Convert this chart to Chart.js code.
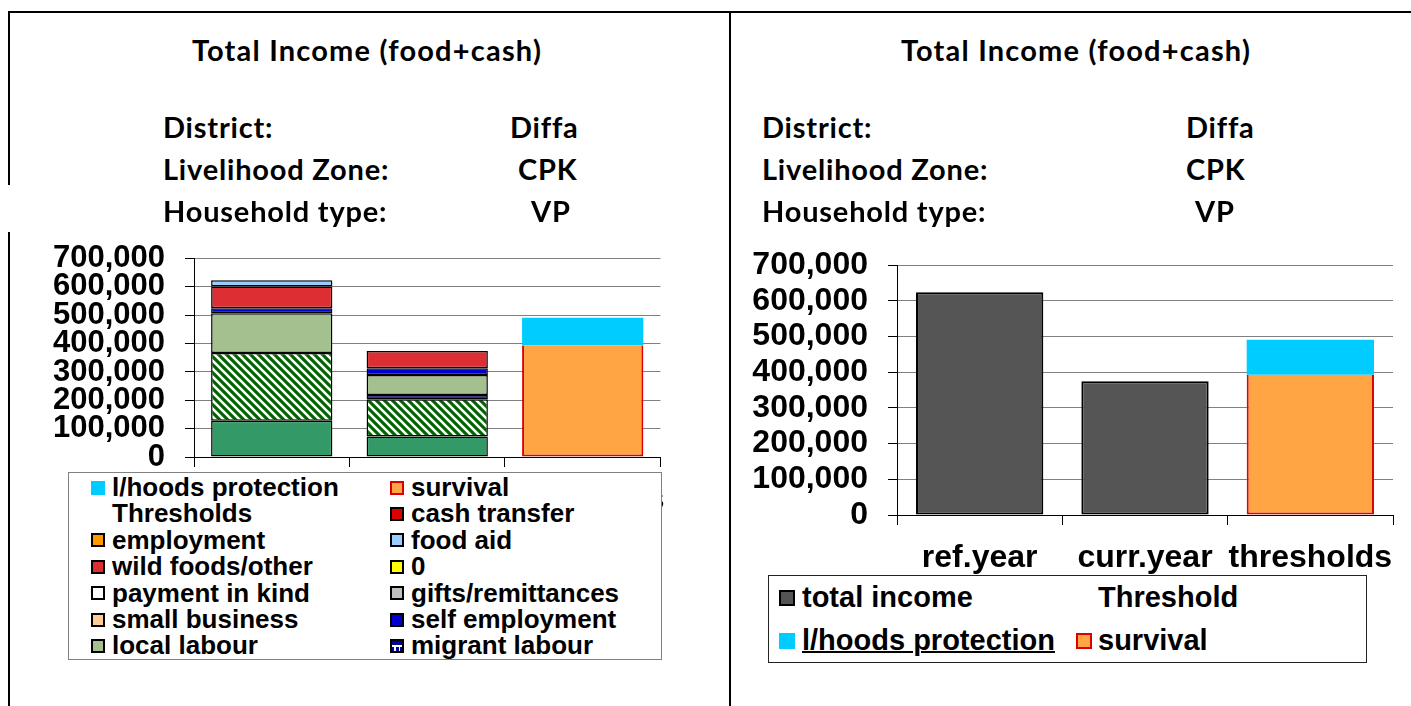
<!DOCTYPE html>
<html>
<head>
<meta charset="utf-8">
<title>Total Income (food+cash)</title>
<script src="https://cdn.jsdelivr.net/npm/chart.js@4.4.1/dist/chart.umd.min.js"></script>
<style>
  html, body { margin: 0; padding: 0; background: #fff; }
  #page { position: relative; width: 1411px; height: 706px; overflow: hidden; font-family: 'Liberation Sans', Arial, sans-serif; }
  .rule { position: absolute; background: #000; }
  .hdr { position: absolute; font-family: Lato, 'Open Sans', sans-serif; font-weight: 700; font-size: 29px; letter-spacing: 0.8px; line-height: 1; white-space: nowrap; color: #000; }
  .plot { position: absolute; }
  .legend { position: absolute; background: #fff; box-sizing: border-box; font-weight: 700; color: #000; z-index: 2; }
  .item { position: absolute; white-space: nowrap; line-height: 1; }
  .mk { position: absolute; box-sizing: border-box; }
</style>
</head>
<body>
<div id="page">
  <div class="rule" style="left:8px; top:11px; width:1403px; height:2px;"></div>
  <div class="rule" style="left:8px; top:11px; width:2px; height:174px;"></div>
  <div class="rule" style="left:8px; top:232px; width:2px; height:474px;"></div>
  <div class="rule" style="left:729px; top:11px; width:2px; height:695px;"></div>

  <div class="plot" style="left:0; top:220px;"><canvas id="leftChart" width="680" height="300"></canvas></div>
  <div class="plot" style="left:730px; top:226px;"><canvas id="rightChart" width="681" height="349"></canvas></div>

  <div class="legend" id="leftLegend" style="left:68px; top:472px; width:594px; height:188px; border:1px solid #808080;"></div>
  <div class="legend" id="rightLegend" style="left:768px; top:575px; width:599px; height:88px; border:1px solid #222;"></div>
</div>

<script>
// Total Income (food+cash) - Diffa / CPK / VP

const categories = ['ref.year', 'curr.year', 'thresholds'];
const yTicks = [0, 100000, 200000, 300000, 400000, 500000, 600000, 700000];

const headerTitle = 'Total Income (food+cash)';
const headerLabels = ['District:', 'Livelihood Zone:', 'Household type:'];
const headerValues = ['Diffa', 'CPK', 'VP'];

// sources, bottom of the stack first
const crops = [128000, 72000, 0];
const livestock = [239000, 132000, 0];
const migrantLabour = [0, 15000, 0];
const localLabour = [140000, 70000, 0];
const smallBusiness = [0, 0, 0];
const selfEmployment = [18000, 24000, 0];
const giftsRemittances = [0, 0, 0];
const paymentInKind = [0, 0, 0];
const zeroSeries = [0, 0, 0];
const wildFoods = [77000, 61000, 0];
const foodAid = [22000, 0, 0];
const employment = [0, 0, 0];
const cashTransfer = [0, 0, 0];

// thresholds
const survival = [0, 0, 393000];
const lhoodsProtection = [0, 0, 98000];

// totals
const totalIncome = [624000, 375000, 0];

const leftLegendOrder = ['l/hoods protection', 'survival', 'Thresholds', 'cash transfer', 'employment', 'food aid',
  'wild foods/other', '0', 'payment in kind', 'gifts/remittances', 'small business', 'self employment',
  'local labour', 'migrant labour'];
const rightLegendOrder = ['total income', 'Threshold', 'l/hoods protection', 'survival'];

const FONT = "'Liberation Sans', Arial, sans-serif";

function hatch(bg, fg) {
  const c = document.createElement('canvas');
  c.width = 8; c.height = 8;
  const g = c.getContext('2d');
  g.fillStyle = bg;
  g.fillRect(0, 0, 8, 8);
  g.strokeStyle = fg;
  g.lineWidth = 2.6;
  g.beginPath();
  g.moveTo(-4, -4); g.lineTo(12, 12);
  g.moveTo(-4, 4); g.lineTo(4, 12);
  g.moveTo(4, -4); g.lineTo(12, 4);
  g.stroke();
  return g.createPattern(c, 'repeat');
}

function seg(label, data, bg) {
  return { label, data, backgroundColor: bg, borderColor: '#000', borderWidth: 1.5, borderSkipped: false, stack: 'inc' };
}

function survivalSet() {
  return { label: 'survival', data: survival, backgroundColor: '#ffa544', borderColor: '#dd0000', borderWidth: 2, borderSkipped: 'top', stack: 'inc' };
}

function lhoodsSet() {
  return { label: 'l/hoods protection', data: lhoodsProtection, backgroundColor: '#00ccff', borderWidth: 0, stack: 'inc' };
}

function axes(yWidth, xHeight, ySize) {
  return {
    x: {
      stacked: true,
      grid: { display: true, drawOnChartArea: false, offset: true, tickLength: 10, tickColor: '#000' },
      border: { color: '#000', width: 1 },
      ticks: { font: { family: FONT, size: 32, weight: 'bold' }, color: '#000', padding: 14, maxRotation: 0, autoSkip: false },
      afterFit: function (s) { s.height = xHeight; },
    },
    y: {
      stacked: true,
      min: 0,
      max: 700000,
      afterBuildTicks: function (s) { s.ticks = yTicks.map(v => ({ value: v })); },
      ticks: {
        font: { family: FONT, size: ySize, weight: 'bold' },
        color: '#000',
        padding: 20,
        autoSkip: false,
        callback: v => v.toLocaleString('en-US'),
      },
      grid: { color: '#808080', lineWidth: 1, tickLength: 9, tickColor: '#000' },
      border: { color: '#000', width: 1 },
      afterFit: function (s) { s.width = yWidth; },
    },
  };
}

function baseOptions(yWidth, xHeight, ySize, barPct, padRight) {
  return {
    responsive: false,
    animation: false,
    layout: { autoPadding: false, padding: { top: 0, right: padRight, left: 0, bottom: 0 } },
    plugins: { legend: { display: false }, tooltip: { enabled: false } },
    datasets: { bar: { categoryPercentage: 1, barPercentage: barPct } },
    scales: axes(yWidth, xHeight, ySize),
  };
}

const charts = {};

function plotLeft() {
  const ctx = document.getElementById('leftChart');
  const datasets = [
    seg('crops', crops, '#339966'),
    seg('livestock', livestock, hatch('#006400', '#ffffff')),
    seg('migrant labour', migrantLabour, '#000099'),
    seg('local labour', localLabour, '#a4c08f'),
    seg('small business', smallBusiness, '#ffcc99'),
    seg('self employment', selfEmployment, '#0000cc'),
    seg('gifts/remittances', giftsRemittances, '#c0c0c0'),
    seg('payment in kind', paymentInKind, '#ffffff'),
    seg('0', zeroSeries, '#ffff00'),
    seg('wild foods/other', wildFoods, '#dd2f33'),
    seg('food aid', foodAid, '#99ccff'),
    seg('employment', employment, '#ff9900'),
    seg('cash transfer', cashTransfer, '#dd0000'),
    survivalSet(),
    lhoodsSet(),
  ];
  charts.left = new Chart(ctx, {
    type: 'bar',
    data: { labels: categories, datasets },
    options: baseOptions(194, 63, 31, 0.78, 9),
  });
}

function plotRight() {
  const ctx = document.getElementById('rightChart');
  const datasets = [
    { label: 'total income', data: totalIncome, backgroundColor: '#555555', borderColor: '#000', borderWidth: 2, borderSkipped: false, stack: 'inc' },
    survivalSet(),
    lhoodsSet(),
  ];
  charts.right = new Chart(ctx, {
    type: 'bar',
    data: { labels: categories, datasets },
    options: baseOptions(167, 60, 32, 0.77, 18),
  });
}

// html legend, markers taken from the chart datasets
function marker(ds, size) {
  const m = document.createElement('div');
  m.className = 'mk';
  m.style.width = size + 'px';
  m.style.height = size + 'px';
  if (ds.label === 'migrant labour') {
    m.style.border = '2px solid #000';
    m.style.background = 'linear-gradient(#000099 40%, #fff 40%, #fff 58%, transparent 58%),' +
      'linear-gradient(90deg, #000099 20%, #fff 20%, #fff 35%, #000099 35%, #000099 65%, #fff 65%, #fff 80%, #000099 80%)';
  } else {
    m.style.background = ds.backgroundColor;
    if (ds.borderWidth) m.style.border = '2px solid ' + ds.borderColor;
  }
  return m;
}

function buildLegend(el, chart, order, opt) {
  order.forEach((label, i) => {
    const col = i % 2;
    const row = Math.floor(i / 2);
    const cy = opt.y0 + row * opt.dy;
    const ds = chart.data.datasets.find(d => d.label === label);
    if (ds) {
      const m = marker(ds, opt.mk);
      m.style.left = opt.mkX[col] + 'px';
      m.style.top = (cy - opt.mk / 2) + 'px';
      el.appendChild(m);
    }
    const t = document.createElement('div');
    t.className = 'item';
    t.textContent = label;
    t.style.fontSize = opt.size + 'px';
    t.style.left = opt.txX[col] + 'px';
    t.style.top = (cy - opt.size * 0.52) + 'px';
    if (opt.underline && opt.underline === label) {
      t.style.textDecoration = 'underline';
      t.style.textDecorationThickness = '2px';
    }
    el.appendChild(t);
  });
}

function header(x0, valueX, center) {
  const page = document.getElementById('page');
  const t = document.createElement('div');
  t.className = 'hdr';
  t.textContent = headerTitle;
  t.style.left = center + 'px';
  t.style.top = (50 - 29 * 0.53) + 'px';
  t.style.letterSpacing = '1.2px';
  t.style.transform = 'translateX(-50%)';
  page.appendChild(t);
  headerLabels.forEach((lab, i) => {
    const cy = 127 + i * 42;
    const a = document.createElement('div');
    a.className = 'hdr';
    a.textContent = lab;
    a.style.left = x0 + 'px';
    a.style.top = (cy - 29 * 0.53) + 'px';
    page.appendChild(a);
    const b = document.createElement('div');
    b.className = 'hdr';
    b.textContent = headerValues[i];
    b.style.left = valueX[i] + 'px';
    b.style.top = (cy - 29 * 0.53) + 'px';
    page.appendChild(b);
  });
}

window.addEventListener('DOMContentLoaded', function () {
  plotLeft();
  plotRight();
  header(163, [510, 518, 531], 367);
  header(762, [1186, 1186, 1195], 1076);
  buildLegend(document.getElementById('leftLegend'), charts.left, leftLegendOrder,
    { y0: 14.5, dy: 26.4, mk: 14, mkX: [22, 321], txX: [43, 342], size: 26 });
  buildLegend(document.getElementById('rightLegend'), charts.right, rightLegendOrder,
    { y0: 22, dy: 43, mk: 16, mkX: [10, 307], txX: [33, 329], size: 29, underline: 'l/hoods protection' });
});
</script>
</body>
</html>
